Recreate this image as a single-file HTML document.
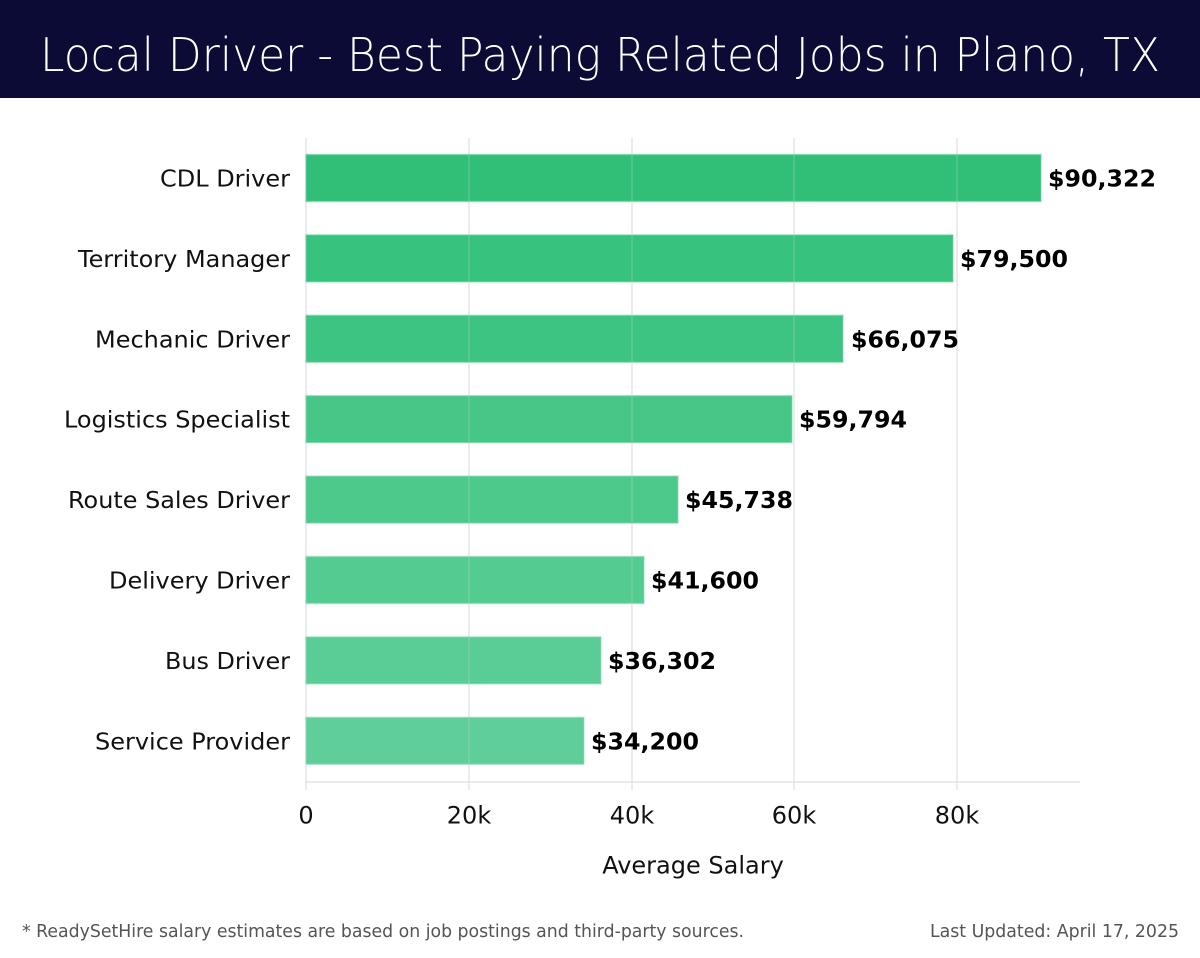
<!DOCTYPE html>
<html><head><meta charset="utf-8"><style>
html,body{margin:0;padding:0;background:#fff;}
svg{display:block;}
</style></head><body>
<svg width="1200" height="958" viewBox="0 0 1200 958" xmlns="http://www.w3.org/2000/svg">
<rect x="0" y="0" width="1200" height="958" fill="#fff"/>
<rect x="0" y="0" width="1200" height="98" fill="#0b0b35"/>
<text x="40" y="71" font-family="'DejaVu Sans','Liberation Sans',sans-serif" font-weight="200" font-size="46" fill="#fff" textLength="1120" lengthAdjust="spacingAndGlyphs">Local Driver - Best Paying Related Jobs in Plano, TX</text>

<g stroke="#dedede" stroke-width="1.2">
<line x1="306" y1="138" x2="306" y2="790"/>
<line x1="469" y1="138" x2="469" y2="790"/>
<line x1="632" y1="138" x2="632" y2="790"/>
<line x1="794" y1="138" x2="794" y2="790"/>
<line x1="957" y1="138" x2="957" y2="790"/>
<line x1="306" y1="782" x2="1080" y2="782"/>
</g>

<g stroke-width="1.5" fill-opacity="0.97">
<rect x="306" y="154.5" width="735" height="47" fill="#2abd74" stroke="#6fd3a0" stroke-opacity="0.5"/>
<rect x="306" y="234.9" width="647" height="47" fill="#31c079" stroke="#72d4a3" stroke-opacity="0.5"/>
<rect x="306" y="315.3" width="537" height="47" fill="#38c27e" stroke="#76d5a6" stroke-opacity="0.5"/>
<rect x="306" y="395.7" width="486" height="47" fill="#40c583" stroke="#7bd7a9" stroke-opacity="0.5"/>
<rect x="306" y="476.1" width="372" height="47" fill="#47c788" stroke="#80d8ac" stroke-opacity="0.5"/>
<rect x="306" y="556.5" width="338" height="47" fill="#4ec98d" stroke="#85daaf" stroke-opacity="0.5"/>
<rect x="306" y="636.9" width="295" height="47" fill="#55ca92" stroke="#8adbb3" stroke-opacity="0.5"/>
<rect x="306" y="717.3" width="278" height="47" fill="#5bcc97" stroke="#8fddb6" stroke-opacity="0.5"/>
</g>
<g stroke="#dedede" stroke-width="1" opacity="0.35">
<line x1="469" y1="138" x2="469" y2="782"/>
<line x1="632" y1="138" x2="632" y2="782"/>
<line x1="794" y1="138" x2="794" y2="782"/>
<line x1="957" y1="138" x2="957" y2="782"/>
</g>

<g font-family="'DejaVu Sans','Liberation Sans',sans-serif" font-size="23.5" fill="#111" lengthAdjust="spacingAndGlyphs">
<text x="160" y="186.5" textLength="130" lengthAdjust="spacingAndGlyphs">CDL Driver</text>
<text x="78" y="266.9" textLength="212" lengthAdjust="spacingAndGlyphs">Territory Manager</text>
<text x="95" y="347.3" textLength="195" lengthAdjust="spacingAndGlyphs">Mechanic Driver</text>
<text x="64" y="427.7" textLength="226" lengthAdjust="spacingAndGlyphs">Logistics Specialist</text>
<text x="68" y="508.1" textLength="222" lengthAdjust="spacingAndGlyphs">Route Sales Driver</text>
<text x="109" y="588.5" textLength="181" lengthAdjust="spacingAndGlyphs">Delivery Driver</text>
<text x="165" y="668.9" textLength="125" lengthAdjust="spacingAndGlyphs">Bus Driver</text>
<text x="95" y="749.3" textLength="195" lengthAdjust="spacingAndGlyphs">Service Provider</text>
</g>

<g font-family="'DejaVu Sans','Liberation Sans',sans-serif" font-size="23.5" font-weight="bold" fill="#000">
<text x="1048" y="186.5" textLength="108" lengthAdjust="spacingAndGlyphs">$90,322</text>
<text x="960" y="266.9" textLength="108" lengthAdjust="spacingAndGlyphs">$79,500</text>
<text x="851" y="347.3" textLength="108" lengthAdjust="spacingAndGlyphs">$66,075</text>
<text x="799" y="427.7" textLength="108" lengthAdjust="spacingAndGlyphs">$59,794</text>
<text x="685" y="508.1" textLength="108" lengthAdjust="spacingAndGlyphs">$45,738</text>
<text x="651" y="588.5" textLength="108" lengthAdjust="spacingAndGlyphs">$41,600</text>
<text x="608" y="668.9" textLength="108" lengthAdjust="spacingAndGlyphs">$36,302</text>
<text x="591" y="749.3" textLength="108" lengthAdjust="spacingAndGlyphs">$34,200</text>
</g>

<g font-family="'DejaVu Sans','Liberation Sans',sans-serif" font-size="24" fill="#111" text-anchor="middle">
<text x="306" y="823.5">0</text>
<text x="469" y="823.5">20k</text>
<text x="632" y="823.5">40k</text>
<text x="794" y="823.5">60k</text>
<text x="957" y="823.5">80k</text>
<text x="693" y="873.5">Average Salary</text>
</g>

<g font-family="'DejaVu Sans','Liberation Sans',sans-serif" font-size="18" fill="#555">
<text x="22" y="937" textLength="722" lengthAdjust="spacingAndGlyphs">* ReadySetHire salary estimates are based on job postings and third-party sources.</text>
<text x="930" y="937" textLength="249" lengthAdjust="spacingAndGlyphs">Last Updated: April 17, 2025</text>
</g>
</svg>
</body></html>
